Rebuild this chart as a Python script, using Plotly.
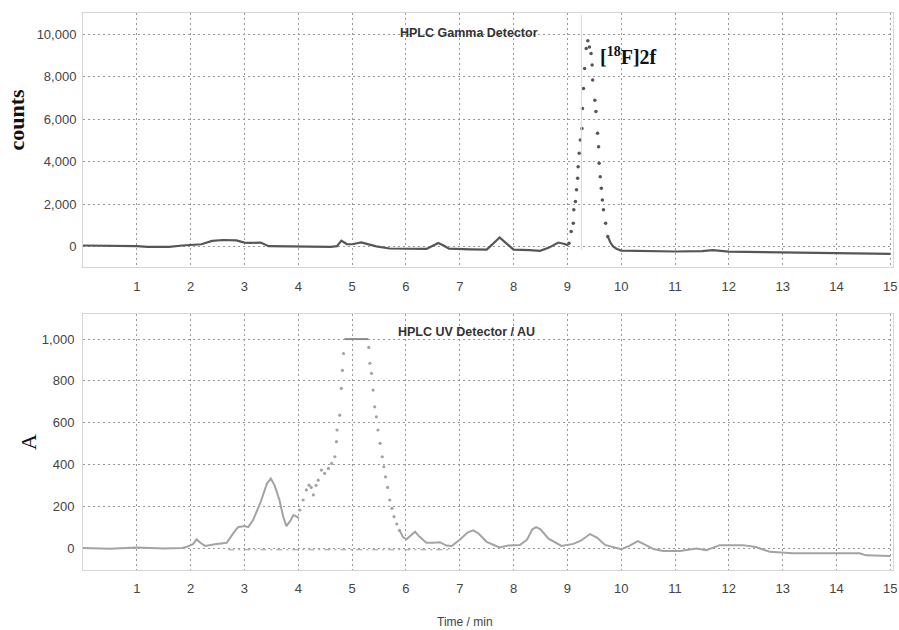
import plotly.graph_objects as go

# ---------------- DATA ----------------
# Gamma detector (counts) – baseline before the peak
gamma_time = [0, 0.5, 0.7, 0.9, 1.0, 1.2, 1.6, 1.85, 2.0, 2.2, 2.4, 2.6, 2.85, 3.0, 3.1, 3.3,
              3.45, 3.7, 4.0, 4.3, 4.6, 4.72, 4.8, 4.9, 5.0, 5.17, 5.3, 5.45, 5.7, 6.0, 6.38,
              6.5, 6.6, 6.7, 6.8, 7.2, 7.5, 7.6, 7.74, 7.85, 8.0, 8.3, 8.49, 8.65, 8.83, 8.95, 9.02]
gamma_counts = [60, 50, 20, 10, 30, 0, 0, 60, 80, 120, 280, 320, 300, 200, 180, 200,
                30, 20, 40, 10, 0, 30, 290, 130, 120, 210, 120, 20, -80, -100, -100,
                50, 180, 60, -90, -120, -130, 100, 440, 200, -130, -160, -190, -50, 200, 130, 60]
# Gamma detector – dotted peak of [18F]2f
gamma_peak_time = [9.03, 9.07, 9.11, 9.12, 9.15, 9.17, 9.19, 9.20, 9.22, 9.24, 9.27, 9.28, 9.30,
                   9.32, 9.35, 9.38, 9.41, 9.44, 9.46, 9.47, 9.51, 9.53, 9.56, 9.58, 9.59, 9.61,
                   9.63, 9.65, 9.67, 9.71, 9.75]
gamma_peak_counts = [170, 720, 1110, 1740, 2130, 2680, 3230, 3770, 4400, 5030, 5570, 6510, 7450,
                     8390, 9330, 9700, 9400, 9100, 8550, 7850, 6900, 6360, 5340, 4710, 3930, 3300,
                     2760, 2200, 1740, 1110, 480]
# Gamma detector – tail after the peak
gamma_tail_time = [9.75, 9.8, 9.85, 9.92, 10.0, 10.5, 11.0, 11.5, 11.7, 12.0, 12.5, 13.0, 13.5, 14.0, 14.5, 15.0]
gamma_tail_counts = [480, 200, 15, -100, -180, -200, -220, -200, -160, -230, -250, -270, -280, -290, -300, -330]

# UV detector (AU) – before the main peak
uv_time = [0, 0.5, 1.0, 1.5, 1.85, 1.93, 2.05, 2.11, 2.18, 2.27, 2.45, 2.67, 2.79, 2.88, 3.0, 3.07,
           3.16, 3.3, 3.42, 3.49, 3.56, 3.65, 3.72, 3.78, 3.85, 3.91, 3.97, 4.01]
uv_abs = [0, -3, 3, -2, 0, 6, 20, 42, 25, 10, 18, 25, 70, 100, 105, 100,
          134, 220, 310, 333, 300, 230, 150, 105, 130, 158, 150, 142]
# UV detector – dotted rising flank
uv_rise_time = [4.03, 4.09, 4.15, 4.20, 4.24, 4.28, 4.33, 4.37, 4.43, 4.49, 4.56, 4.62, 4.68,
                4.71, 4.72, 4.77, 4.80, 4.82, 4.84]
uv_rise_abs = [182, 230, 278, 301, 290, 254, 300, 325, 373, 357, 381, 405, 437,
               509, 565, 636, 764, 850, 931]
# UV detector – clipped top of the main peak
uv_top_time = [4.86, 5.30]
uv_top_abs = [1000, 1000]
# UV detector – dotted falling flank
uv_fall_time = [5.31, 5.33, 5.36, 5.39, 5.42, 5.45, 5.48, 5.52, 5.56, 5.59, 5.62, 5.66, 5.70,
                5.74, 5.78, 5.83, 5.88]
uv_fall_abs = [960, 884, 836, 756, 676, 628, 565, 501, 437, 389, 341, 290, 230,
               190, 150, 115, 85]
# UV detector – after the main peak
uv_tail_time = [5.88, 5.95, 6.01, 6.1, 6.17, 6.25, 6.38, 6.5, 6.63, 6.75, 6.85, 7.0, 7.15, 7.25,
                7.35, 7.5, 7.74, 7.9, 8.12, 8.25, 8.35, 8.42, 8.5, 8.65, 8.89, 9.11, 9.25, 9.42,
                9.55, 9.7, 9.85, 10.0, 10.15, 10.31, 10.45, 10.6, 10.78, 11.09, 11.4, 11.58,
                11.83, 12.26, 12.5, 12.76, 13.19, 13.94, 14.43, 14.55, 14.92, 15.0]
uv_tail_abs = [85, 51, 42, 60, 78, 55, 25, 25, 28, 12, 10, 40, 75, 85,
               70, 30, 3, 12, 15, 40, 90, 100, 90, 45, 10, 20, 35, 67,
               50, 15, 5, -5, 10, 33, 15, -5, -14, -14, -2, -10,
               14, 14, 5, -18, -25, -25, -25, -35, -37, -38]
# UV baseline (dashed)
uv_base_time = [2.7, 6.8]
uv_base_abs = [-8, -8]

x_ticks = list(range(1, 16))
gamma_ticks = [0, 2000, 4000, 6000, 8000, 10000]
uv_ticks = [0, 200, 400, 600, 800, 1000]

# ---------------- FIGURE ----------------
GAMMA_COL = "#565656"
UV_COL = "#a3a3a3"

fig = go.Figure()
fig.add_trace(go.Scatter(x=gamma_time, y=gamma_counts, mode="lines",
                         line=dict(color=GAMMA_COL, width=2.2), xaxis="x", yaxis="y"))
fig.add_trace(go.Scatter(x=gamma_peak_time, y=gamma_peak_counts, mode="markers",
                         marker=dict(color=GAMMA_COL, size=3.5), xaxis="x", yaxis="y"))
fig.add_trace(go.Scatter(x=gamma_tail_time, y=gamma_tail_counts, mode="lines",
                         line=dict(color=GAMMA_COL, width=2.2), xaxis="x", yaxis="y"))

fig.add_trace(go.Scatter(x=uv_base_time, y=uv_base_abs, mode="lines",
                         line=dict(color="#9c9c9c", width=1.2, dash="6px,4px,2px,4px"),
                         xaxis="x2", yaxis="y2"))
fig.add_trace(go.Scatter(x=uv_time, y=uv_abs, mode="lines",
                         line=dict(color=UV_COL, width=2), xaxis="x2", yaxis="y2"))
fig.add_trace(go.Scatter(x=uv_rise_time, y=uv_rise_abs, mode="markers",
                         marker=dict(color=UV_COL, size=3.2), xaxis="x2", yaxis="y2"))
fig.add_trace(go.Scatter(x=uv_top_time, y=uv_top_abs, mode="lines",
                         line=dict(color="#8a8a8a", width=2), xaxis="x2", yaxis="y2"))
fig.add_trace(go.Scatter(x=uv_fall_time, y=uv_fall_abs, mode="markers",
                         marker=dict(color=UV_COL, size=3.2), xaxis="x2", yaxis="y2"))
fig.add_trace(go.Scatter(x=uv_tail_time, y=uv_tail_abs, mode="lines",
                         line=dict(color=UV_COL, width=2), xaxis="x2", yaxis="y2"))

tickfont = dict(family="Arial, Liberation Sans, sans-serif", size=13, color="#444")
axis_common = dict(showgrid=True, gridcolor="#999999", griddash="2px,3px", gridwidth=1,
                   zeroline=False, showline=True, mirror=True, linecolor="#d6d6d6", linewidth=1,
                   tickfont=tickfont, automargin=False)

fig.update_layout(
    width=899, height=630,
    margin=dict(l=83, r=6, t=13, b=60),
    paper_bgcolor="white", plot_bgcolor="white",
    showlegend=False,
    xaxis=dict(domain=[0, 1], range=[0, 15.05], tickvals=x_ticks, anchor="y",
               ticks="outside", ticklen=7, tickcolor="rgba(0,0,0,0)", **axis_common),
    yaxis=dict(domain=[0.544, 1], range=[-950, 11000], tickvals=gamma_ticks, tickformat=",d",
               anchor="x", ticks="outside", ticklen=3, tickcolor="rgba(0,0,0,0)", **axis_common),
    xaxis2=dict(domain=[0, 1], range=[0, 15.05], tickvals=x_ticks, anchor="y2",
                ticks="outside", ticklen=6, tickcolor="rgba(0,0,0,0)", **axis_common),
    yaxis2=dict(domain=[0, 0.4596], range=[-105, 1120], tickvals=uv_ticks, tickformat=",d",
                anchor="x2", ticks="outside", ticklen=5, tickcolor="rgba(0,0,0,0)", **axis_common),
)

# faint vertical marker line in the gamma panel
fig.add_shape(type="line", xref="x", yref="y", x0=9.26, x1=9.26, y0=-150, y1=10900,
              line=dict(color="#d8d8d8", width=1))

title_font = dict(family="Arial, Liberation Sans, sans-serif", size=12.5, color="#333")
ann = dict(xref="paper", yref="paper", showarrow=False, xanchor="center", yanchor="middle")
fig.add_annotation(text="<b>HPLC Gamma Detector</b>", x=0.4765, y=0.964, font=title_font, **ann)
fig.add_annotation(text="<b>HPLC UV Detector / AU</b>", x=0.4737, y=0.4273, font=title_font, **ann)
fig.add_annotation(text="Time / min", x=0.4716, y=-0.0934,
                   font=dict(family="Arial, Liberation Sans, sans-serif", size=12, color="#444"), **ann)
fig.add_annotation(text="<b>counts</b>", x=-0.0819, y=0.808, textangle=-90,
                   font=dict(family="Liberation Serif, Times New Roman, serif", size=22, color="#111"), **ann)
fig.add_annotation(text="A", x=-0.0679, y=0.2298, textangle=-90,
                   font=dict(family="Liberation Serif, Times New Roman, serif", size=22, color="#111"), **ann)
fig.add_annotation(text="<b>[<sup>18</sup>F]2f</b>", xref="x", yref="y",
                   x=9.56, y=8970, xanchor="left", yanchor="middle", showarrow=False,
                   font=dict(family="Liberation Serif, Times New Roman, serif", size=20, color="#111"))

fig.write_html("out.html", config={"displayModeBar": False},
               post_script="document.body.style.margin='0';document.body.style.overflow='hidden';"
                           "document.documentElement.style.overflow='hidden';")
